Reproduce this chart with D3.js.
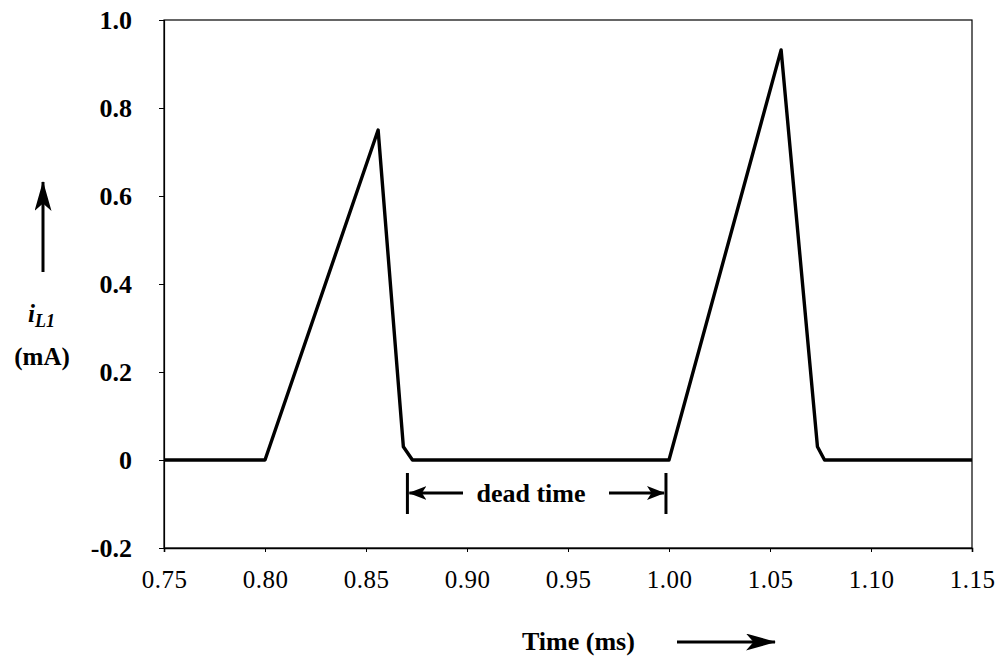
<!DOCTYPE html>
<html>
<head>
<meta charset="utf-8">
<script src="https://cdn.jsdelivr.net/npm/d3@7"></script>
<style>
    body { margin: 0; background: #fff; }
    svg { display: block; }
    .label { font-family: "Liberation Serif", "Times New Roman", serif; fill: #000; }
</style>
</head>
<body>
<div id="chartContainer"></div>
<script>
/***** Data */

// time in ms, inductor current in mA
const timeValues = [0.75, 0.80, 0.856, 0.8685, 0.873, 1.00, 1.0555, 1.0735, 1.077, 1.15];
const currentValues = [0, 0, 0.75, 0.03, 0, 0, 0.932, 0.03, 0, 0];

const xTicks = [0.75, 0.80, 0.85, 0.90, 0.95, 1.00, 1.05, 1.10, 1.15];
const yTicks = [-0.2, 0, 0.2, 0.4, 0.6, 0.8, 1.0];

// dead time annotation, from end of first pulse to start of second
const deadTime = [0.8705, 0.9985];

/***** Drawing */

const width = 996;
const height = 661;
const margin = { top: 20, right: 24, bottom: 113, left: 164 };

const svg = d3.select('#chartContainer').append('svg')
    .attr('width', width)
    .attr('height', height);

// arrow heads: a small one for the dead time bracket, a big one for the axis titles
const defs = svg.append('defs');
const addMarker = (id, len, wid) => {
    defs.append('marker')
        .attr('id', id)
        .attr('viewBox', `0 0 ${len} ${wid}`)
        .attr('refX', len - 1)
        .attr('refY', wid / 2)
        .attr('markerWidth', len)
        .attr('markerHeight', wid)
        .attr('markerUnits', 'userSpaceOnUse')
        .attr('orient', 'auto')
        .append('path')
        .attr('d', `M0,0 L${len},${wid / 2} L0,${wid} L${len * 0.25},${wid / 2} Z`)
        .attr('fill', '#000');
};
addMarker('smallHead', 18, 14);
addMarker('bigHead', 30, 17);

const x = d3.scaleLinear()
    .domain([0.75, 1.15])
    .range([margin.left, width - margin.right]);
const y = d3.scaleLinear()
    .domain([-0.2, 1.0])
    .range([height - margin.bottom, margin.top]);

// frame
svg.append('rect')
    .attr('x', x(0.75))
    .attr('y', y(1.0))
    .attr('width', x(1.15) - x(0.75))
    .attr('height', y(-0.2) - y(1.0))
    .attr('fill', 'none')
    .attr('stroke', '#000')
    .attr('stroke-width', 1.2);

const xAxis = svg.append('g')
    .attr('transform', `translate(0,${y(-0.2)})`)
    .call(d3.axisBottom(x).tickValues(xTicks).tickFormat(d3.format('.2f')).tickSize(4).tickPadding(18));
xAxis.select('.domain').attr('stroke-width', 1.6);
xAxis.selectAll('text')
    .attr('class', 'label')
    .style('font-size', '25px')
    .style('letter-spacing', '0.5px');

const yAxis = svg.append('g')
    .attr('transform', `translate(${x(0.75)},0)`)
    .call(d3.axisLeft(y).tickValues(yTicks)
        .tickFormat(d => d === 0 ? '0' : d.toFixed(1))
        .tickSize(5).tickPadding(27));
yAxis.select('.domain').attr('stroke-width', 1.2);
yAxis.selectAll('text')
    .attr('class', 'label')
    .style('font-size', '26px')
    .style('font-weight', 'bold');

// waveform
const points = timeValues.map((t, i) => [t, currentValues[i]]);
svg.append('path')
    .datum(points)
    .attr('d', d3.line().x(d => x(d[0])).y(d => y(d[1])))
    .attr('fill', 'none')
    .attr('stroke', '#000')
    .attr('stroke-width', 3.4)
    .attr('stroke-linejoin', 'round');

// dead time bracket
const bracketTop = 473;
const bracketBottom = 514;
const bracketMid = 493;
svg.selectAll('.deadTimeBar')
    .data(deadTime)
    .enter()
    .append('line')
    .attr('class', 'deadTimeBar')
    .attr('x1', d => x(d))
    .attr('x2', d => x(d))
    .attr('y1', bracketTop)
    .attr('y2', bracketBottom)
    .attr('stroke', '#000')
    .attr('stroke-width', 3);

svg.append('line')
    .attr('x1', 463).attr('y1', bracketMid)
    .attr('x2', x(deadTime[0]) + 2).attr('y2', bracketMid)
    .attr('stroke', '#000').attr('stroke-width', 3)
    .attr('marker-end', 'url(#smallHead)');
svg.append('line')
    .attr('x1', 609).attr('y1', bracketMid)
    .attr('x2', x(deadTime[1]) - 2).attr('y2', bracketMid)
    .attr('stroke', '#000').attr('stroke-width', 3)
    .attr('marker-end', 'url(#smallHead)');
svg.append('text')
    .attr('class', 'label')
    .attr('x', 531)
    .attr('y', 502)
    .attr('text-anchor', 'middle')
    .style('font-size', '26px')
    .style('font-weight', 'bold')
    .text('dead time');

// x axis title with arrow
svg.append('text')
    .attr('class', 'label')
    .attr('x', 522)
    .attr('y', 650)
    .style('font-size', '26px')
    .style('font-weight', 'bold')
    .text('Time (ms)');
svg.append('line')
    .attr('x1', 677).attr('y1', 642)
    .attr('x2', 775).attr('y2', 642)
    .attr('stroke', '#000').attr('stroke-width', 3)
    .attr('marker-end', 'url(#bigHead)');

// y axis title with arrow
svg.append('line')
    .attr('x1', 43).attr('y1', 272)
    .attr('x2', 43).attr('y2', 182)
    .attr('stroke', '#000').attr('stroke-width', 3)
    .attr('marker-end', 'url(#bigHead)');
const yLabel = svg.append('text')
    .attr('class', 'label')
    .attr('x', 28)
    .attr('y', 322)
    .style('font-size', '25px')
    .style('font-style', 'italic')
    .style('font-weight', 'bold');
yLabel.append('tspan').text('i');
yLabel.append('tspan').attr('dy', 5).style('font-size', '18px').text('L1');
svg.append('text')
    .attr('class', 'label')
    .attr('x', 42)
    .attr('y', 365)
    .attr('text-anchor', 'middle')
    .style('font-size', '25px')
    .style('font-weight', 'bold')
    .text('(mA)');
</script>
</body>
</html>
